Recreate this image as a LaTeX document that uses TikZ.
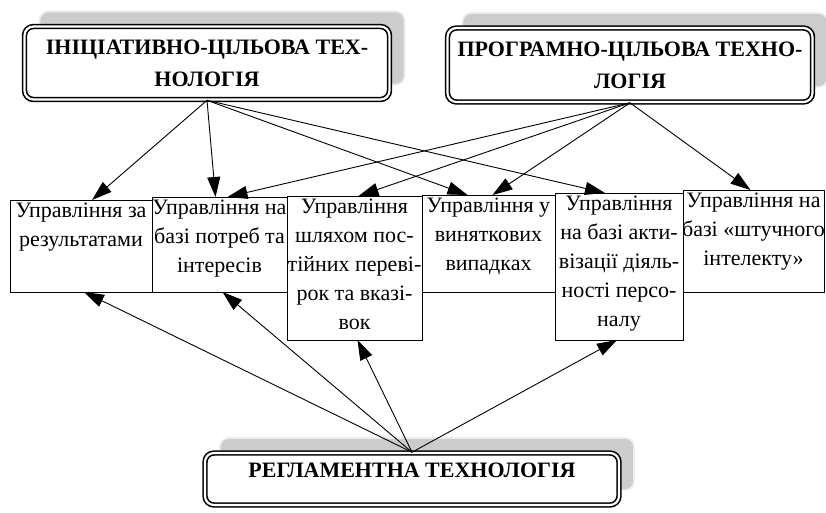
\documentclass[tikz,border=0pt]{standalone}
\usepackage{fontspec}
\setmainfont{Liberation Serif}
\usetikzlibrary{arrows.meta,shadows}
\tikzset{
  techbox/.style={draw, line width=1.6pt, double=white, double distance=2.2pt,
    rounded corners=9pt, fill=white, minimum width=365pt, inner sep=0pt,
    align=center, font=\fontsize{22}{32}\selectfont\bfseries,
    general shadow={fill=gray!40, draw=gray!15, shadow xshift=15pt, shadow yshift=15pt}},
  ctrlbox/.style={draw, line width=0.9pt, fill=white, anchor=north west,
    inner sep=0pt, outer sep=0pt},
  ctrltext/.style={anchor=north, inner sep=3pt, align=center,
    font=\fontsize{22}{29}\selectfont},
  link/.style={->, line width=0.9pt}
}
\begin{document}
\begin{tikzpicture}[x=1pt,y=-1pt,>={Triangle[length=20pt,width=13pt]}]
\useasboundingbox (0,0) rectangle (826,512);
% technologies
\node[techbox, minimum height=73pt] (ini) at (207,63) {ІНІЦІАТИВНО-ЦІЛЬОВА ТЕХ-\\НОЛОГІЯ};
\node[techbox, minimum height=74pt] (prg) at (630,65) {ПРОГРАМНО-ЦІЛЬОВА ТЕХНО-\\ЛОГІЯ};
\node[techbox, minimum width=414pt, minimum height=52pt, text depth=17pt] (reg) at (412,479) {РЕГЛАМЕНТНА ТЕХНОЛОГІЯ};
% management boxes
\node[ctrlbox, minimum width=142pt, minimum height=92pt] (b1) at (10,200) {};
\node[ctrlbox, minimum width=135pt, minimum height=95pt] (b2) at (152,197) {};
\node[ctrlbox, minimum width=135pt, minimum height=144pt] (b3) at (287,196) {};
\node[ctrlbox, minimum width=133pt, minimum height=97pt] (b4) at (422,195) {};
\node[ctrlbox, minimum width=128pt, minimum height=147pt] (b5) at (555,193) {};
\node[ctrlbox, minimum width=141pt, minimum height=102pt] (b6) at (683,190) {};
\node[ctrltext] (t1) at (b1.north) {Управління за\\результатами};
\node[ctrltext] (t2) at (b2.north) {Управління на\\базі потреб та\\інтересів};
\node[ctrltext] (t3) at (b3.north) {Управління\\шляхом пос-\\тійних переві-\\рок та вказі-\\вок};
\node[ctrltext] (t4) at (b4.north) {Управління у\\виняткових\\випадках};
\node[ctrltext] (t5) at (b5.north) {Управління\\на базі акти-\\візації діяль-\\ності персо-\\налу};
\node[ctrltext] (t6) at (b6.north) {Управління на\\базі «штучного\\інтелекту»};
% links
\draw[link] (ini.south) -- ([xshift=11pt]b1.north);
\draw[link] (ini.south) -- ([xshift=-4pt]b2.north);
\draw[link] (ini.south) -- ([xshift=-21pt]b4.north);
\draw[link] (ini.south) -- ([xshift=-14pt]b5.north);
\draw[link] (prg.south) -- ([xshift=8pt]b2.north);
\draw[link] (prg.south) -- ([xshift=4pt]b3.north);
\draw[link] (prg.south) -- ([xshift=4pt]b4.north);
\draw[link] (prg.south) -- ([xshift=-3pt]b6.north);
\draw[link] (reg.north) -- ([xshift=3pt]b1.south);
\draw[link] (reg.north) -- ([xshift=3pt]b2.south);
\draw[link] (reg.north) -- ([xshift=3pt]b3.south);
\draw[link] (reg.north) -- ([xshift=-2pt]b5.south);
\end{tikzpicture}
\end{document}
